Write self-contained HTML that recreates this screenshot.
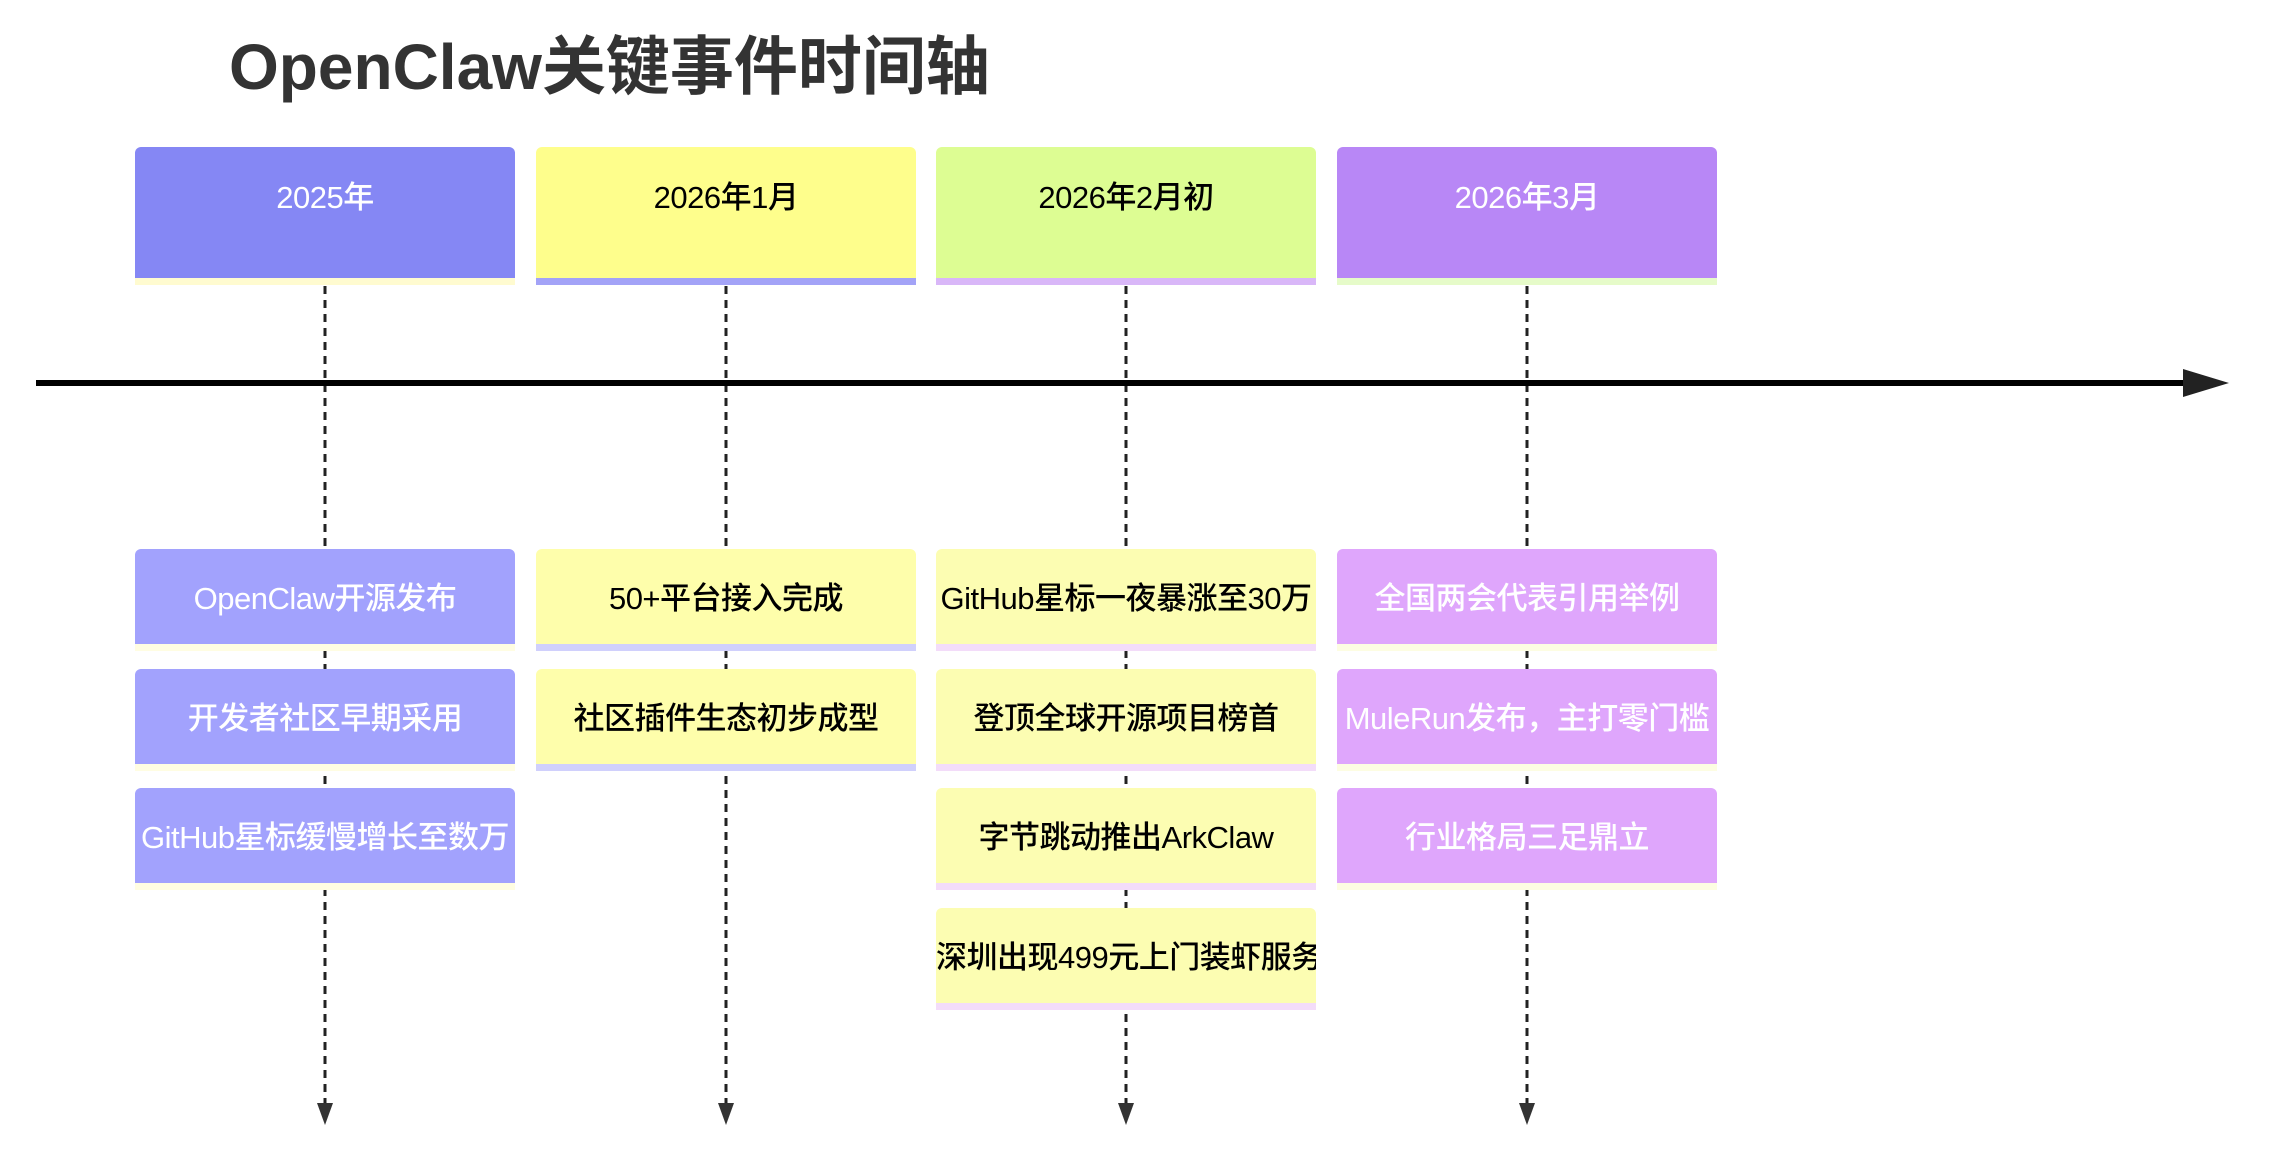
<!DOCTYPE html>
<html><head><meta charset="utf-8"><style>
html,body{margin:0;padding:0;background:#fff;}
body{width:2282px;height:1170px;position:relative;overflow:hidden;font-family:"Liberation Sans","Noto Sans CJK SC",sans-serif;}
.t{position:absolute;left:229px;top:27px;font-size:64px;font-weight:bold;color:#333;white-space:nowrap;line-height:80px;}
.b{position:absolute;width:380px;border-radius:6px 6px 0 0;overflow:hidden;white-space:nowrap;text-align:center;font-size:31px;font-weight:500;letter-spacing:-0.5px;}
.h{top:147px;height:131px;line-height:102px;}
.e{height:95px;line-height:100px;}
</style></head><body>
<div class="t">OpenClaw关键事件时间轴</div>
<svg width="2282" height="1170" style="position:absolute;left:0;top:0">
<g stroke="#222" stroke-width="3" stroke-dasharray="8,6">
<line x1="325" y1="286" x2="325" y2="1105"/>
<line x1="726" y1="286" x2="726" y2="1105"/>
<line x1="1126" y1="286" x2="1126" y2="1105"/>
<line x1="1527" y1="286" x2="1527" y2="1105"/>
</g>
<g fill="#333">
<polygon points="317,1103 333,1103 325,1125"/>
<polygon points="718,1103 734,1103 726,1125"/>
<polygon points="1118,1103 1134,1103 1126,1125"/>
<polygon points="1519,1103 1535,1103 1527,1125"/>
</g>
<line x1="36" y1="383" x2="2190" y2="383" stroke="#000" stroke-width="6"/>
<polygon points="2183,369 2229,383 2183,397" fill="#222"/>
</svg>
<div class="b h" style="left:135px;background:#8587f4;color:#fff;border-bottom:7px solid #fffbd0">2025年</div>
<div class="b h" style="left:536px;background:#fefe8c;color:#000;border-bottom:7px solid #a3a3f7">2026年1月</div>
<div class="b h" style="left:936px;background:#ddfd93;color:#000;border-bottom:7px solid #d9b7f8">2026年2月初</div>
<div class="b h" style="left:1337px;background:#b887f6;color:#fff;border-bottom:7px solid #e6fbc9">2026年3月</div>
<div class="b e" style="left:135px;top:549px;background:#a2a2fd;color:#fff;border-bottom:7px solid #fffde2">OpenClaw开源发布</div>
<div class="b e" style="left:135px;top:669px;background:#a2a2fd;color:#fff;border-bottom:7px solid #fffde2">开发者社区早期采用</div>
<div class="b e" style="left:135px;top:788px;background:#a2a2fd;color:#fff;border-bottom:7px solid #fffde2">GitHub星标缓慢增长至数万</div>
<div class="b e" style="left:536px;top:549px;background:#fefeab;color:#000;border-bottom:7px solid #d0d0fc">50+平台接入完成</div>
<div class="b e" style="left:536px;top:669px;background:#fefeab;color:#000;border-bottom:7px solid #d0d0fc">社区插件生态初步成型</div>
<div class="b e" style="left:936px;top:549px;background:#fcfdb2;color:#000;border-bottom:7px solid #f3dcf9">GitHub星标一夜暴涨至30万</div>
<div class="b e" style="left:936px;top:669px;background:#fcfdb2;color:#000;border-bottom:7px solid #f3dcf9">登顶全球开源项目榜首</div>
<div class="b e" style="left:936px;top:788px;background:#fcfdb2;color:#000;border-bottom:7px solid #f3dcf9">字节跳动推出ArkClaw</div>
<div class="b e" style="left:936px;top:908px;background:#fcfdb2;color:#000;border-bottom:7px solid #f3dcf9">深圳出现499元上门装虾服务</div>
<div class="b e" style="left:1337px;top:549px;background:#dfa6fc;color:#fff;border-bottom:7px solid #fdfde2">全国两会代表引用举例</div>
<div class="b e" style="left:1337px;top:669px;background:#dfa6fc;color:#fff;border-bottom:7px solid #fdfde2">MuleRun发布，主打零门槛</div>
<div class="b e" style="left:1337px;top:788px;background:#dfa6fc;color:#fff;border-bottom:7px solid #fdfde2">行业格局三足鼎立</div>
</body></html>
